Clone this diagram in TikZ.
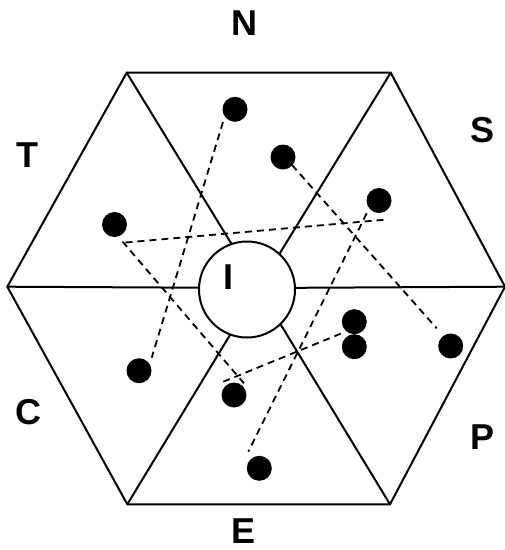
\documentclass[tikz,border=0pt]{standalone}
\usepackage{fontspec}
\setmainfont{Liberation Sans}
\begin{document}
\begin{tikzpicture}[x=1pt, y=-1pt,
    hexline/.style={line width=2pt, line join=miter},
    hub/.style={circle, draw, line width=2pt, fill=white,
                minimum size=96pt, inner sep=0pt},
    dot/.style={circle, fill=black, inner sep=0pt, minimum size=25pt},
    link/.style={line width=1.8pt, dash pattern=on 7pt off 5pt},
    lbl/.style={font=\fontsize{36}{43}\selectfont\bfseries, inner sep=0pt},
  ]
  \useasboundingbox (0,0) rectangle (505,550);

  % hexagon corners and centre
  \coordinate (hl)  at (7.3,286.7);
  \coordinate (htl) at (126.7,72.7);
  \coordinate (htr) at (390.7,72.7);
  \coordinate (hr)  at (505,286.7);
  \coordinate (hbr) at (390,504.3);
  \coordinate (hbl) at (127.3,504.3);
  \coordinate (hc)  at (258.5,288);

  \draw[hexline] (hl) -- (htl) -- (htr) -- (hr) -- (hbr) -- (hbl) -- cycle;
  \foreach \v in {hl,htl,htr,hr,hbr,hbl}
    \draw[hexline] (\v) -- (hc);

  \node[hub] (hub) at (247,289.5) {};
  \node[lbl] (lblI) at (228.7,276.7) {I};

  % sector labels
  \node[lbl] (lblN) at (244,23)    {N};
  \node[lbl] (lblS) at (483,130)   {S};
  \node[lbl] (lblT) at (27,155)    {T};
  \node[lbl] (lblC) at (28.3,412.5) {C};
  \node[lbl] (lblP) at (483,437.5) {P};
  \node[lbl] (lblE) at (244,531.5) {E};

  % dots
  \foreach \n/\p in {d1/{235,109.3}, d2/{283,157}, d3/{379,200.5},
                     d4/{114.5,224.5}, d5/{139,370.7}, d6/{234,395},
                     d7/{354.3,321.7}, d8/{354.3,346.7}, d9/{450.7,346},
                     d10/{259.3,468.3}}
    \node[dot] (\n) at (\p) {};

  % dashed links
  \draw[link] ([shift={(-12,12.7)}]d1.center)  -- ([shift={(12.7,-13)}]d5.center);
  \draw[link] ([shift={(11,18)}]d4.center)     -- ([shift={(8,19)}]d3.center);
  \draw[link] ([shift={(8,17)}]d4.center)      -- ([shift={(10,-11.7)}]d6.center);
  \draw[link] ([shift={(9,8)}]d2.center)       -- ([shift={(-14,-17.7)}]d9.center);
  \draw[link] ([shift={(-12.3,12.8)}]d3.center) -- ([shift={(-11,-16.6)}]d10.center);
  \draw[link] ([shift={(-10.7,-13.3)}]d6.center) -- ([shift={(-12.6,-13.4)}]d8.center);
\end{tikzpicture}
\end{document}
